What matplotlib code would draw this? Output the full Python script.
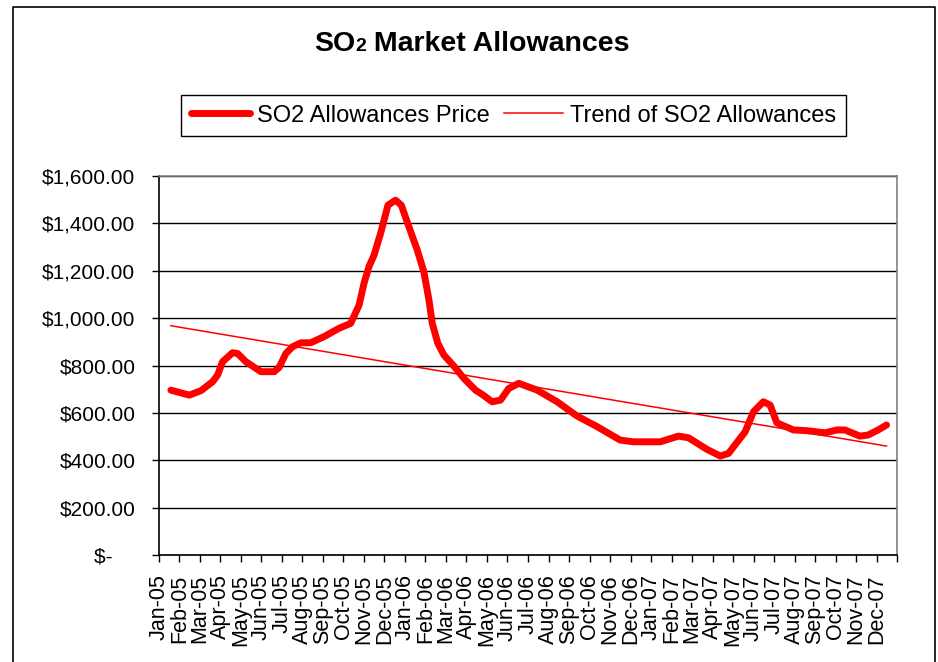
import matplotlib
matplotlib.use("Agg")
from matplotlib import pyplot as plt
from matplotlib.lines import Line2D
from matplotlib.offsetbox import TextArea, HPacker, AnchoredOffsetbox
from matplotlib.ticker import FuncFormatter
import numpy as np

plt.rcParams['font.family'] = ['Liberation Sans', 'DejaVu Sans']

############# data (month index, 0 = Jan-05)
month_labels = ['Jan-05', 'Feb-05', 'Mar-05', 'Apr-05', 'May-05', 'Jun-05', 'Jul-05', 'Aug-05',
                'Sep-05', 'Oct-05', 'Nov-05', 'Dec-05', 'Jan-06', 'Feb-06', 'Mar-06', 'Apr-06',
                'May-06', 'Jun-06', 'Jul-06', 'Aug-06', 'Sep-06', 'Oct-06', 'Nov-06', 'Dec-06',
                'Jan-07', 'Feb-07', 'Mar-07', 'Apr-07', 'May-07', 'Jun-07', 'Jul-07', 'Aug-07',
                'Sep-07', 'Oct-07', 'Nov-07', 'Dec-07']

price_month = [0.58, 1.48, 2.05, 2.62, 2.86, 3.10, 3.59, 3.83, 4.24, 4.97, 5.62, 5.86,
               6.19, 6.51, 6.92, 7.40, 8.05, 8.78, 9.35, 9.76, 10.0, 10.24, 10.49, 10.81,
               11.17, 11.54, 11.82, 12.19, 12.60, 12.92, 13.17, 13.33, 13.6, 13.9, 14.38,
               14.87, 15.44, 15.85, 16.25, 16.66, 17.06, 17.55, 18.45, 19.42, 20.39, 21.37,
               22.5, 23.15, 24.45, 25.34, 25.83, 26.73, 27.38, 27.78, 28.59, 29.0, 29.48,
               29.81, 30.14, 30.95, 31.6, 32.49, 33.06, 33.46, 34.19, 34.6, 35.08, 35.49]
price_value = [696, 675, 694, 732, 760, 816, 854, 851, 816, 774, 774, 792,
               851, 879, 896, 896, 922, 957, 978, 1055, 1147, 1217, 1266, 1358,
               1477, 1498, 1477, 1386, 1287, 1196, 1076, 978, 894, 844, 798,
               746, 696, 673, 647, 654, 703, 725, 696, 647, 587, 542,
               485, 478, 478, 502, 495, 446, 418, 429, 520, 605, 647,
               633, 558, 528, 525, 516, 528, 528, 502, 507, 528, 549]

trend_month = [0.58, 35.49]
trend_value = [968, 460]

yticks = [0, 200, 400, 600, 800, 1000, 1200, 1400, 1600]


def money(v, pos):
    if v == 0:
        return '$-    '
    return '${:,.2f}'.format(v)


fig = plt.figure(figsize=(9.38, 6.62), dpi=100)
ax = fig.add_axes([0.1695, 0.1616, 0.7868, 0.5725])

l1, = ax.plot(price_month, price_value, color='#ff0000', linewidth=5, solid_capstyle='round',
              solid_joinstyle='round', label='SO2 Allowances Price')
l2, = ax.plot(trend_month, trend_value, color='#ff0000', linewidth=1.1, label='Trend of SO2 Allowances')

ax.set_xlim(0, 36)
ax.set_ylim(0, 1600)
ax.set_yticks(yticks)
ax.yaxis.set_major_formatter(FuncFormatter(money))
ax.set_xticks(np.arange(0, 36))
ax.set_xticklabels(month_labels, rotation=90)
ax.set_xticks(np.arange(0, 37), minor=True)
ax.tick_params(axis='x', which='major', length=5, width=1, pad=9, labelsize=15.5, color='black')
ax.tick_params(axis='x', which='minor', length=5, width=1, color='black')
ax.tick_params(axis='y', length=5, width=1, pad=12, labelsize=15, color='black')
ax.yaxis.grid(True, color='black', linewidth=1)
ax.set_axisbelow(True)
ax.spines['left'].set_color('black')
ax.spines['bottom'].set_color('black')
ax.spines['right'].set_color('#808080')
ax.spines['top'].set_color('#808080')
for s in ax.spines.values():
    s.set_linewidth(1.2)

# legend
leg = fig.legend(handles=[l1, l2], loc='center', bbox_to_anchor=(0.5474, 0.8255), ncol=2,
                 fontsize=17, frameon=True, fancybox=False, edgecolor='black', framealpha=1,
                 handlelength=2.5, handletextpad=0.3, columnspacing=0.6, borderpad=0.4,
                 borderaxespad=0)
leg.get_frame().set_linewidth(1)

# title with small "2"
big = dict(fontsize=20.5, fontweight='bold', color='black')
small = dict(fontsize=14, fontweight='bold', color='black')
title_box = HPacker(children=[TextArea('SO', textprops=big), TextArea('2', textprops=small),
                              TextArea(' Market Allowances', textprops=big)],
                    align='baseline', pad=0, sep=0)
anchored = AnchoredOffsetbox(loc='center', child=title_box, pad=0, frameon=False,
                             bbox_to_anchor=(0.5027, 0.9335), bbox_transform=fig.transFigure,
                             borderpad=0)
fig.add_artist(anchored)

# outer chart border
W, H = 938.0, 662.0
border = Line2D([13 / W, 13 / W, 935 / W, 935 / W], [-0.01, 1 - 7 / H, 1 - 7 / H, -0.01],
                transform=fig.transFigure, color='black', linewidth=1.2)
fig.add_artist(border)

fig.savefig('out.png', dpi=100)
